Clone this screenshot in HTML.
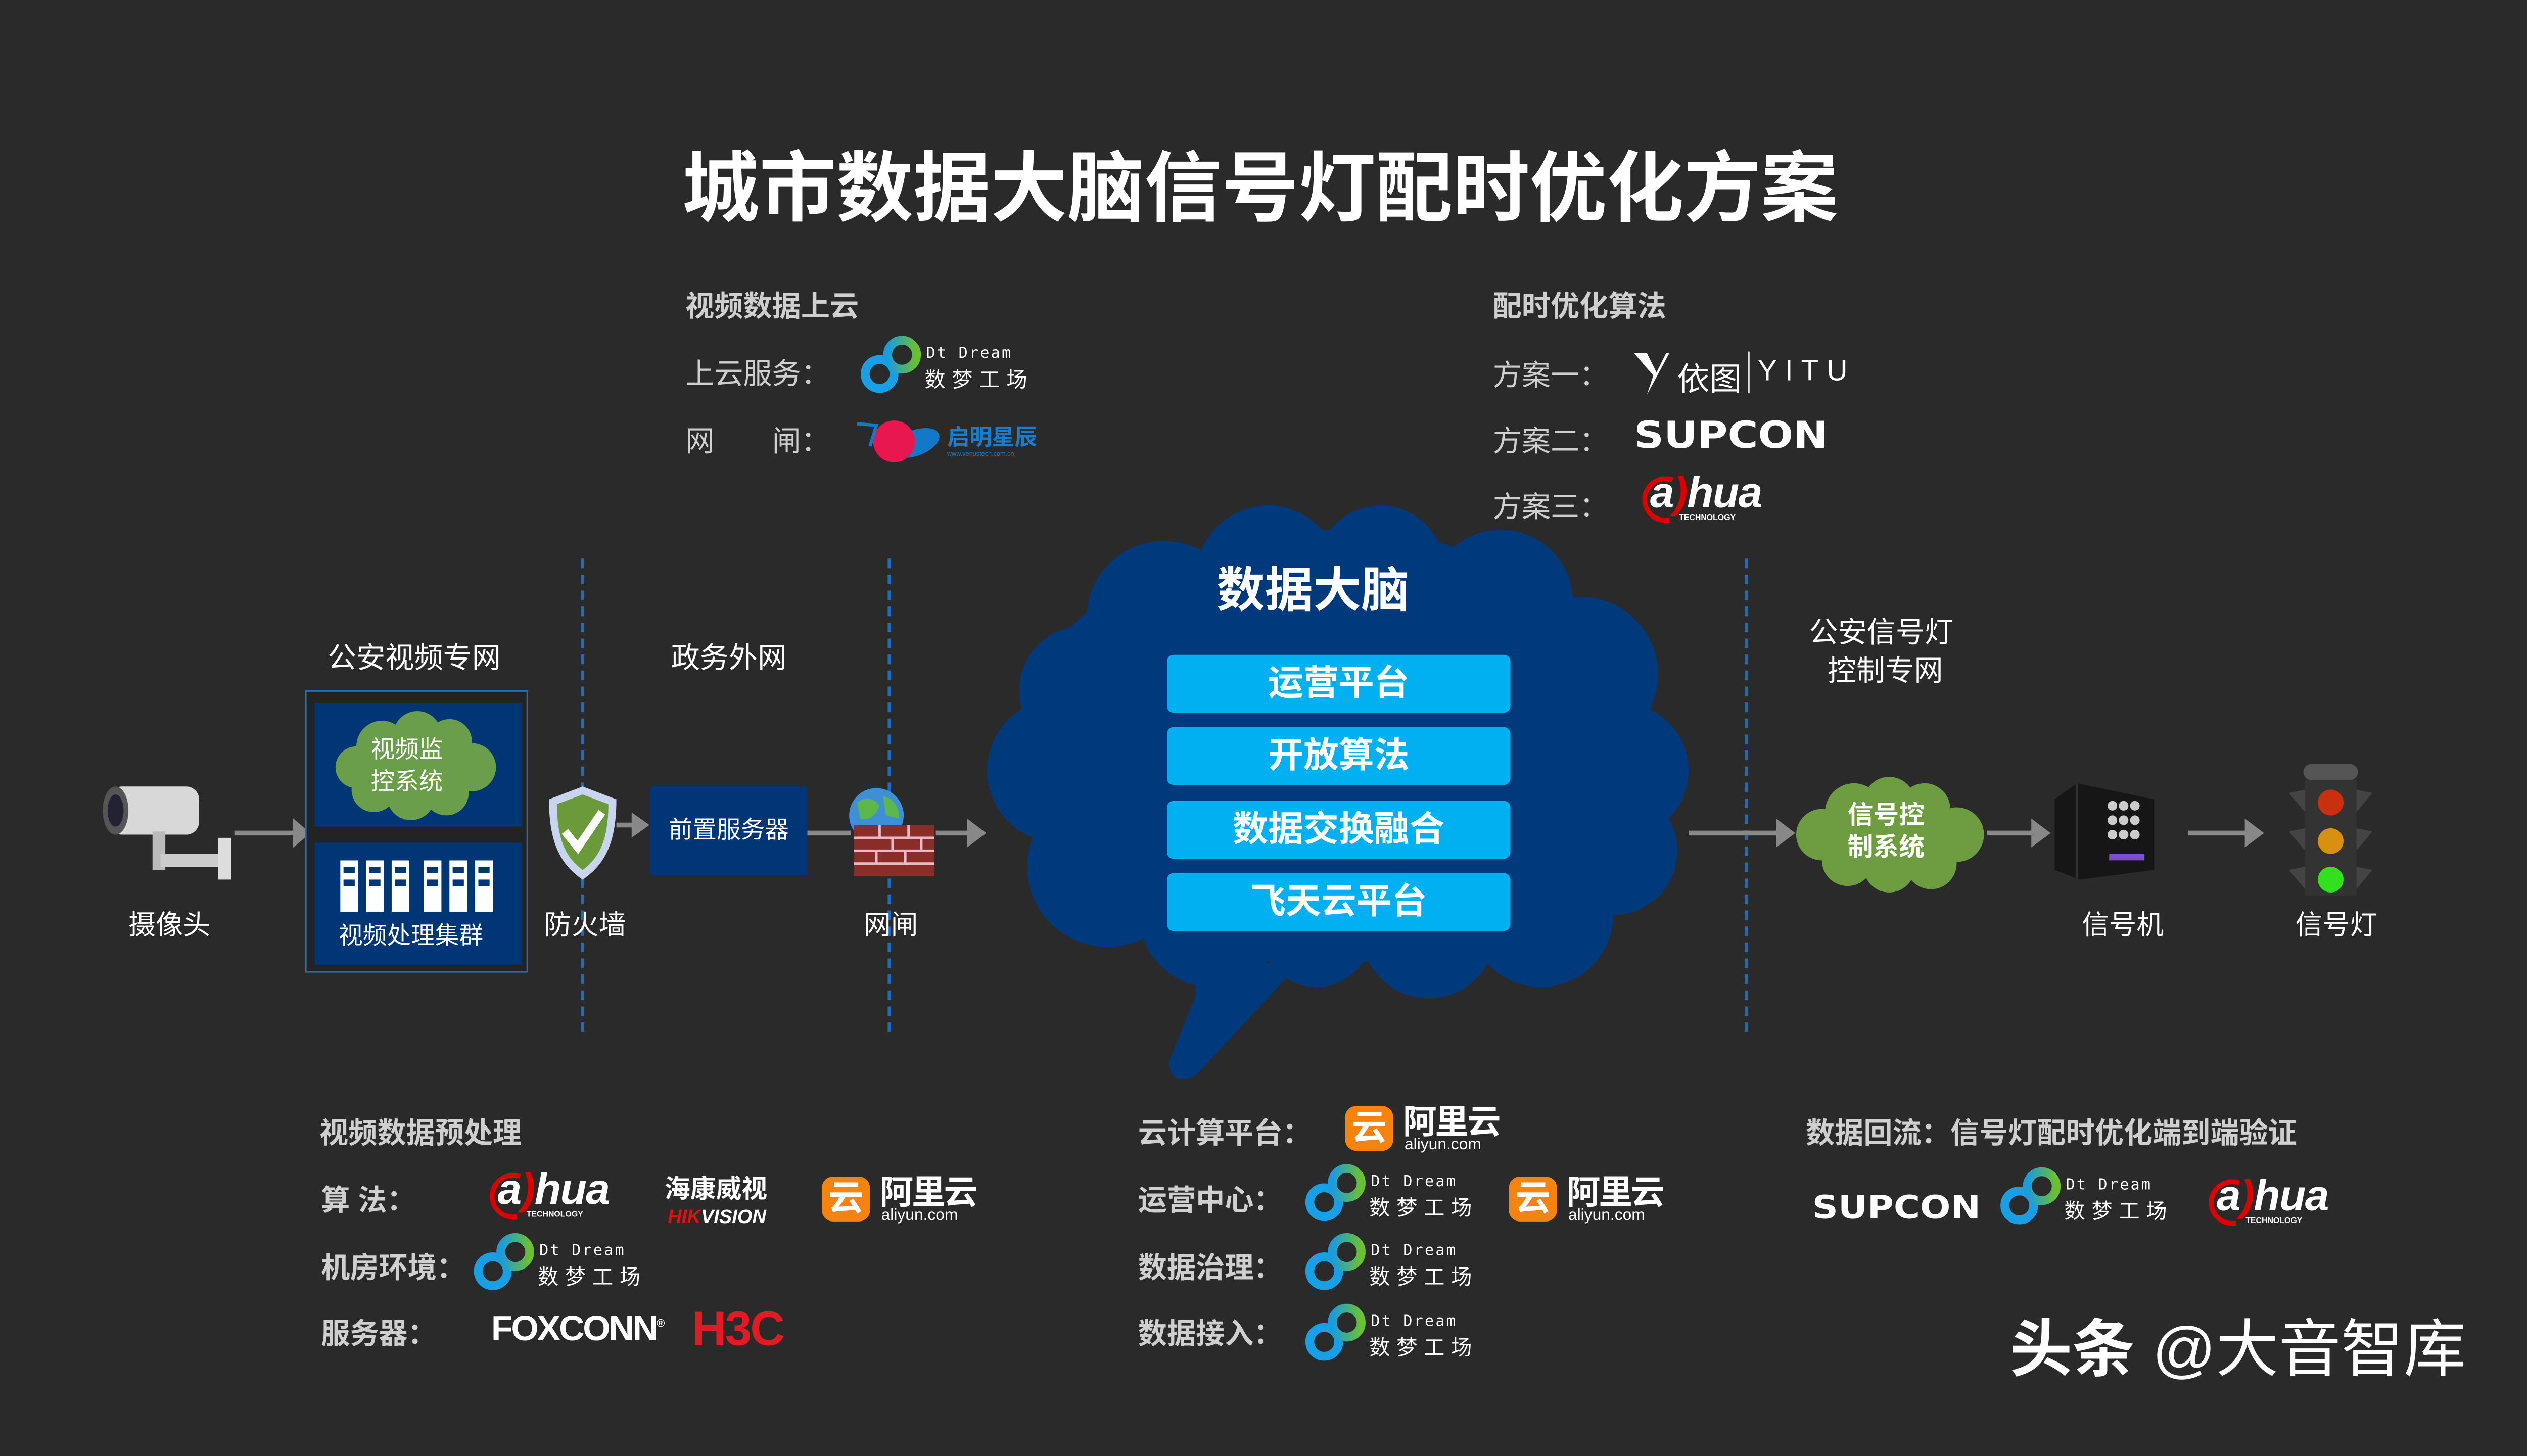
<!DOCTYPE html>
<html><head><meta charset="utf-8">
<style>
html,body{margin:0;padding:0;background:#2a2a2a;}
body{width:5120px;height:2880px;overflow:hidden;}
#s{position:absolute;left:0;top:0;width:1612px;height:907px;transform:scale(3.176);transform-origin:0 0;background:#2a2a2a;font-family:"Liberation Sans","Noto Sans CJK SC",sans-serif;color:#fff;}
.a{position:absolute;white-space:nowrap;}
.h{font-weight:bold;color:#cfcfcf;font-size:18px;}
.l{color:#cfcfcf;font-size:18px;}
.w{color:#fff;font-size:17px;}
.dtt{position:absolute;left:42px;top:7px;font-family:"DejaVu Sans Mono",monospace;font-size:9.5px;letter-spacing:1px;color:#fff}
.dtc{position:absolute;left:41px;top:18px;font-size:13px;letter-spacing:4px;color:#fff}
.ali .ic{position:absolute;left:0;top:2px;width:30px;height:28px;border-radius:7px;background:#f7830f;color:#fff;font-weight:bold;font-size:22px;line-height:28px;text-align:center}
.ali .t1{position:absolute;left:36px;top:-4px;font-size:21px;font-weight:bold;color:#fff;letter-spacing:-1px}
.ali .t2{position:absolute;left:37px;top:21px;font-size:10px;color:#fff}
.dh .t{position:absolute;left:8px;top:-4px;font-size:27px;font-weight:bold;font-style:italic;color:#fff;letter-spacing:-0.5px}
.dh .tt{position:absolute;left:26px;top:24px;font-size:5px;color:#fff;font-weight:bold}
.sup{font-family:"DejaVu Sans","Liberation Sans",sans-serif;font-weight:bold;color:#fff;font-size:23px;transform:scaleX(1.12);transform-origin:0 0}
.bar{position:absolute;left:727px;width:214px;height:36px;background:#00b0f0;border-radius:4px;font-size:22px;font-weight:bold;text-align:center;line-height:36px;color:#fff}
.dash{position:absolute;top:348px;height:295px;width:0;border-left:2px dashed #1a6cc4;}
</style></head><body><div id="s">

<div class="a" style="left:425px;top:78px;font-size:48px;font-weight:bold;color:#fff">城市数据大脑信号灯配时优化方案</div>

<div class="a h" style="left:427px;top:177px">视频数据上云</div>
<div class="a l" style="left:427px;top:219px">上云服务：</div>
<div class="a l" style="left:427px;top:261px">网　　闸：</div>

<div class="a" style="left:535px;top:208px;width:115px;height:40px">
<svg width="40" height="40" style="position:absolute;left:0;top:0"><defs><linearGradient id="g1" x1="0" y1="0" x2="1" y2="0"><stop offset="0" stop-color="#1a9be0"/><stop offset="1" stop-color="#6cc02e"/></linearGradient></defs>
<circle cx="13" cy="25" r="9" fill="none" stroke="#18a0e6" stroke-width="5.5"/><circle cx="27" cy="13" r="9" fill="none" stroke="url(#g1)" stroke-width="5.5"/></svg>
<div class="dtt">Dt Dream</div><div class="dtc">数梦工场</div></div>

<div class="a" style="left:532px;top:256px;width:120px;height:34px">
<svg width="60" height="34" style="position:absolute;left:0;top:0"><ellipse cx="38" cy="20" rx="16" ry="8" fill="#1279c8" transform="rotate(-20 38 20)"/><circle cx="25" cy="19" r="13" fill="#e8174f"/><path d="M2 8 L14 9 L10 22" stroke="#1279c8" stroke-width="2" fill="none"/></svg>
<div style="position:absolute;left:58px;top:6px;font-size:14px;font-weight:bold;color:#1a7ccc">启明星辰</div>
<div style="position:absolute;left:58px;top:24px;font-size:4px;color:#1a7ccc">www.venustech.com.cn</div></div>

<div class="a h" style="left:930px;top:177px">配时优化算法</div>
<div class="a l" style="left:930px;top:220px">方案一：</div>
<div class="a l" style="left:930px;top:261px">方案二：</div>
<div class="a l" style="left:930px;top:302px">方案三：</div>
<div class="a" style="left:1018px;top:218px">
<svg width="22" height="28" style="position:absolute;left:0;top:2px"><path d="M0 0 L8 0 L14 12 L20 0 L22 0 L8 26 L12 14 Z" fill="#fff"/></svg>
<div style="position:absolute;left:27px;top:2px;font-size:20px;color:#fff">依图</div>
<div style="position:absolute;left:71px;top:1px;width:1px;height:26px;background:#ddd"></div>
<div style="position:absolute;left:77px;top:3px;font-size:18px;letter-spacing:5px;color:#fff">YITU</div></div>
<div class="a sup" style="left:1018px;top:259px">SUPCON</div>
<div class="a dh" style="left:1020px;top:296px;width:100px;height:32px">
<svg width="30" height="32" style="position:absolute;left:0;top:0"><path d="M22 3 A13 13 0 1 0 20 28" stroke="#d00" stroke-width="3" fill="none"/></svg>
<div class="t">a<span style="color:#d00">)</span>hua</div><div class="tt">TECHNOLOGY</div></div>

<div class="dash" style="left:362px"></div>
<div class="dash" style="left:553px"></div>
<div class="dash" style="left:1087px"></div>

<div class="a l" style="left:204px;top:396px;color:#fff">公安视频专网</div>
<div class="a l" style="left:418px;top:396px;color:#fff">政务外网</div>
<div class="a l" style="left:1127px;top:382px;color:#fff;text-align:center;line-height:24px">公安信号灯<br>&nbsp;控制专网</div>

<svg class="a" style="left:60px;top:486px" width="90" height="66">
<rect x="8" y="4" width="56" height="30" rx="8" fill="#d8d8d8"/><ellipse cx="12" cy="19" rx="8" ry="15" fill="#555"/><ellipse cx="12" cy="19" rx="5" ry="10" fill="#223"/>
<rect x="35" y="32" width="8" height="24" fill="#bbb"/><rect x="40" y="46" width="40" height="8" fill="#ccc"/><rect x="76" y="36" width="8" height="26" fill="#ddd"/></svg>
<div class="a w" style="left:80px;top:562px">摄像头</div>
<svg class="a" style="left:0;top:0" width="1568" height="882">
<g stroke="#888" stroke-width="3" fill="#888">
<line x1="146" y1="519" x2="184" y2="519"/><path d="M184 513 L191 519 L184 525Z"/>
<line x1="384" y1="514" x2="396" y2="514"/><path d="M395 509 L402 514 L395 519Z"/>
<line x1="503" y1="519" x2="530" y2="519"/>
<line x1="583" y1="519" x2="605" y2="519"/><path d="M604 513 L612 519 L604 525Z"/>
<line x1="1052" y1="519" x2="1110" y2="519"/><path d="M1108 513 L1116 519 L1108 525Z"/>
<line x1="1238" y1="519" x2="1268" y2="519"/><path d="M1267 513 L1275 519 L1267 525Z"/>
<line x1="1363" y1="519" x2="1401" y2="519"/><path d="M1400 513 L1408 519 L1400 525Z"/>
</g></svg>

<div class="a" style="left:190px;top:430px;width:139px;height:176px;border:1.5px solid #1673c8;box-sizing:border-box;background:#232323"></div>
<div class="a" style="left:196px;top:438px;width:129px;height:77px;background:#003676"></div>
<svg class="a" style="left:198px;top:440px" width="125" height="73"><g fill="#6a9e4a">
<circle cx="40" cy="25" r="16"/><circle cx="62" cy="18" r="15"/><circle cx="82" cy="22" r="14"/><circle cx="96" cy="38" r="15"/><circle cx="80" cy="54" r="14"/><circle cx="58" cy="56" r="15"/><circle cx="35" cy="52" r="14"/><circle cx="24" cy="38" r="13"/><ellipse cx="60" cy="38" rx="35" ry="22"/></g></svg>
<div class="a" style="left:231px;top:458px;font-size:15px;line-height:20px;color:#fff">视频监<br>控系统</div>
<div class="a" style="left:196px;top:525px;width:129px;height:76px;background:#003676"></div>
<svg class="a" style="left:210px;top:536px" width="110" height="34"><g fill="#fff">
<rect x="2" y="0" width="11" height="32"/><rect x="18" y="0" width="11" height="32"/><rect x="34" y="0" width="11" height="32"/><rect x="54" y="0" width="11" height="32"/><rect x="70" y="0" width="11" height="32"/><rect x="86" y="0" width="11" height="32"/></g>
<g fill="#003676"><rect x="4" y="4" width="7" height="4"/><rect x="20" y="4" width="7" height="4"/><rect x="36" y="4" width="7" height="4"/><rect x="56" y="4" width="7" height="4"/><rect x="72" y="4" width="7" height="4"/><rect x="88" y="4" width="7" height="4"/>
<rect x="4" y="12" width="7" height="4"/><rect x="20" y="12" width="7" height="4"/><rect x="36" y="12" width="7" height="4"/><rect x="56" y="12" width="7" height="4"/><rect x="72" y="12" width="7" height="4"/><rect x="88" y="12" width="7" height="4"/></g></svg>
<div class="a" style="left:211px;top:572px;font-size:15px;color:#fff">视频处理集群</div>

<svg class="a" style="left:338px;top:488px" width="50" height="62">
<path d="M25 2 L46 10 C46 35 40 50 25 60 C10 50 4 35 4 10 Z" fill="#c9d4ef"/><path d="M25 7 L41 13 C41 34 36 46 25 54 C14 46 9 34 9 13 Z" fill="#6a9a3a"/>
<path d="M14 30 L22 40 L37 18" stroke="#fff" stroke-width="5" fill="none"/></svg>
<div class="a w" style="left:339px;top:562px">防火墙</div>
<div class="a" style="left:405px;top:490px;width:98px;height:55px;background:#003676;font-size:15px;line-height:55px;text-align:center;color:#fff">前置服务器</div>
<svg class="a" style="left:526px;top:488px" width="60" height="62">
<circle cx="20" cy="20" r="17" fill="#3e8fd6"/><path d="M8 12 Q16 6 22 14 Q18 24 10 22Z" fill="#5cb84a"/><path d="M24 8 Q34 10 34 22 L26 20Z" fill="#5cb84a"/>
<rect x="6" y="26" width="50" height="32" fill="#8a2c28"/><g stroke="#e7b9c9" stroke-width="1.5"><line x1="6" y1="34" x2="56" y2="34"/><line x1="6" y1="42" x2="56" y2="42"/><line x1="6" y1="50" x2="56" y2="50"/><line x1="22" y1="26" x2="22" y2="34"/><line x1="40" y1="26" x2="40" y2="34"/><line x1="30" y1="34" x2="30" y2="42"/><line x1="48" y1="34" x2="48" y2="42"/><line x1="20" y1="42" x2="20" y2="50"/><line x1="38" y1="42" x2="38" y2="50"/></g></svg>
<div class="a w" style="left:538px;top:562px">网闸</div>

<svg class="a" style="left:0;top:0" width="1568" height="882"><g fill="#00397c">
<ellipse cx="830" cy="465" rx="195" ry="135"/>
<circle cx="725" cy="385" r="48"/><circle cx="790" cy="360" r="45"/><circle cx="860" cy="355" r="40"/><circle cx="935" cy="375" r="45"/><circle cx="985" cy="420" r="48"/><circle cx="1010" cy="480" r="42"/><circle cx="1005" cy="530" r="40"/><circle cx="960" cy="570" r="45"/><circle cx="890" cy="580" r="42"/><circle cx="820" cy="580" r="35"/><circle cx="755" cy="570" r="45"/><circle cx="690" cy="540" r="50"/><circle cx="660" cy="480" r="45"/><circle cx="675" cy="430" r="40"/>
<path d="M745 600 L810 600 L745 670 Q730 678 728 662 L745 620Z"/></g></svg>
<div class="a" style="left:758px;top:343px;font-size:30px;font-weight:bold;color:#fff">数据大脑</div>
<div class="bar" style="top:408px">运营平台</div>
<div class="bar" style="top:453px">开放算法</div>
<div class="bar" style="top:499px">数据交换融合</div>
<div class="bar" style="top:544px">飞天云平台</div>

<svg class="a" style="left:1115px;top:482px" width="124" height="75"><g fill="#6e9c40">
<circle cx="40" cy="24" r="18"/><circle cx="62" cy="18" r="16"/><circle cx="84" cy="22" r="16"/><circle cx="104" cy="38" r="17"/><circle cx="88" cy="56" r="16"/><circle cx="62" cy="58" r="16"/><circle cx="36" cy="54" r="16"/><circle cx="20" cy="38" r="16"/><ellipse cx="62" cy="38" rx="40" ry="24"/></g></svg>
<div class="a" style="left:1151px;top:499px;font-size:16px;font-weight:bold;line-height:20px;color:#fff">信号控<br>制系统</div>
<svg class="a" style="left:1278px;top:486px" width="66" height="64">
<path d="M2 12 L16 2 L64 12 L64 56 L18 62 L2 56Z" fill="#161616"/><path d="M16 2 L16 62" stroke="#333"/>
<g fill="#ccc"><circle cx="38" cy="16" r="3"/><circle cx="45" cy="16" r="3"/><circle cx="52" cy="16" r="3"/><circle cx="38" cy="25" r="3"/><circle cx="45" cy="25" r="3"/><circle cx="52" cy="25" r="3"/><circle cx="38" cy="34" r="3"/><circle cx="45" cy="34" r="3"/><circle cx="52" cy="34" r="3"/></g>
<rect x="36" y="46" width="22" height="4" fill="#7d4bd6"/></svg>
<div class="a w" style="left:1297px;top:562px">信号机</div>
<svg class="a" style="left:1424px;top:476px" width="56" height="84">
<rect x="11" y="0" width="34" height="10" rx="5" fill="#555"/>
<path d="M2 18 L12 16 L12 30 Z M54 18 L44 16 L44 30Z M2 42 L12 40 L12 54Z M54 42 L44 40 L44 54Z M2 66 L12 64 L12 78Z M54 66 L44 64 L44 78Z" fill="#444"/>
<rect x="12" y="10" width="32" height="72" fill="#333"/>
<circle cx="28" cy="24" r="8" fill="#c8300f"/><circle cx="28" cy="48" r="8" fill="#d89010"/><circle cx="28" cy="72" r="8" fill="#33e020"/></svg>
<div class="a w" style="left:1430px;top:562px">信号灯</div>

<div class="a h" style="left:199px;top:692px">视频数据预处理</div>
<div class="a h" style="left:200px;top:734px">算 法：</div>
<div class="a h" style="left:200px;top:776px">机房环境：</div>
<div class="a h" style="left:200px;top:817px">服务器：</div>
<div class="a dh" style="left:302px;top:730px;width:100px;height:32px">
<svg width="30" height="32" style="position:absolute;left:0;top:0"><path d="M22 3 A13 13 0 1 0 20 28" stroke="#d00" stroke-width="3" fill="none"/></svg>
<div class="t">a<span style="color:#d00">)</span>hua</div><div class="tt">TECHNOLOGY</div></div>
<div class="a" style="left:414px;top:727px;font-size:16px;font-weight:bold;color:#fff">海康威视</div>
<div class="a" style="left:416px;top:751px;font-size:12px;font-weight:bold;font-style:italic;color:#fff"><span style="color:#e01010">HIK</span>VISION</div>
<div class="a ali" style="left:512px;top:731px;width:110px;height:32px"><div class="ic">云</div><div class="t1">阿里云</div><div class="t2">aliyun.com</div></div>
<div class="a" style="left:294px;top:767px;width:115px;height:40px">
<svg width="40" height="40" style="position:absolute;left:0;top:0"><circle cx="13" cy="25" r="9" fill="none" stroke="#18a0e6" stroke-width="5.5"/><circle cx="27" cy="13" r="9" fill="none" stroke="url(#g1)" stroke-width="5.5"/></svg>
<div class="dtt">Dt Dream</div><div class="dtc">数梦工场</div></div>
<div class="a" style="left:306px;top:815px;font-size:22px;font-weight:bold;color:#fff;letter-spacing:-1px">FOXCONN<sup style="font-size:7px">®</sup></div>
<div class="a" style="left:431px;top:812px;font-size:30px;font-weight:bold;color:#e01b24;letter-spacing:-1px">H3C</div>

<div class="a h" style="left:709px;top:692px">云计算平台：</div>
<div class="a h" style="left:709px;top:734px">运营中心：</div>
<div class="a h" style="left:709px;top:776px">数据治理：</div>
<div class="a h" style="left:709px;top:817px">数据接入：</div>
<div class="a ali" style="left:838px;top:687px;width:110px;height:32px"><div class="ic">云</div><div class="t1">阿里云</div><div class="t2">aliyun.com</div></div>
<div class="a ali" style="left:940px;top:731px;width:110px;height:32px"><div class="ic">云</div><div class="t1">阿里云</div><div class="t2">aliyun.com</div></div>
<div class="a" style="left:812px;top:724px;width:115px;height:40px">
<svg width="40" height="40" style="position:absolute;left:0;top:0"><circle cx="13" cy="25" r="9" fill="none" stroke="#18a0e6" stroke-width="5.5"/><circle cx="27" cy="13" r="9" fill="none" stroke="url(#g1)" stroke-width="5.5"/></svg>
<div class="dtt">Dt Dream</div><div class="dtc">数梦工场</div></div>
<div class="a" style="left:812px;top:767px;width:115px;height:40px">
<svg width="40" height="40" style="position:absolute;left:0;top:0"><circle cx="13" cy="25" r="9" fill="none" stroke="#18a0e6" stroke-width="5.5"/><circle cx="27" cy="13" r="9" fill="none" stroke="url(#g1)" stroke-width="5.5"/></svg>
<div class="dtt">Dt Dream</div><div class="dtc">数梦工场</div></div>
<div class="a" style="left:812px;top:811px;width:115px;height:40px">
<svg width="40" height="40" style="position:absolute;left:0;top:0"><circle cx="13" cy="25" r="9" fill="none" stroke="#18a0e6" stroke-width="5.5"/><circle cx="27" cy="13" r="9" fill="none" stroke="url(#g1)" stroke-width="5.5"/></svg>
<div class="dtt">Dt Dream</div><div class="dtc">数梦工场</div></div>

<div class="a h" style="left:1125px;top:692px">数据回流：信号灯配时优化端到端验证</div>
<div class="a sup" style="left:1129px;top:740px;font-size:20px">SUPCON</div>
<div class="a" style="left:1245px;top:726px;width:115px;height:40px">
<svg width="40" height="40" style="position:absolute;left:0;top:0"><circle cx="13" cy="25" r="9" fill="none" stroke="#18a0e6" stroke-width="5.5"/><circle cx="27" cy="13" r="9" fill="none" stroke="url(#g1)" stroke-width="5.5"/></svg>
<div class="dtt">Dt Dream</div><div class="dtc">数梦工场</div></div>
<div class="a dh" style="left:1373px;top:734px;width:100px;height:32px">
<svg width="30" height="32" style="position:absolute;left:0;top:0"><path d="M22 3 A13 13 0 1 0 20 28" stroke="#d00" stroke-width="3" fill="none"/></svg>
<div class="t">a<span style="color:#d00">)</span>hua</div><div class="tt">TECHNOLOGY</div></div>

<div class="a" style="left:1252px;top:810px;font-size:39px;color:#fff;font-weight:bold"><span>头条</span> <span style="font-weight:normal">@大音智库</span></div>
</div></body></html>
